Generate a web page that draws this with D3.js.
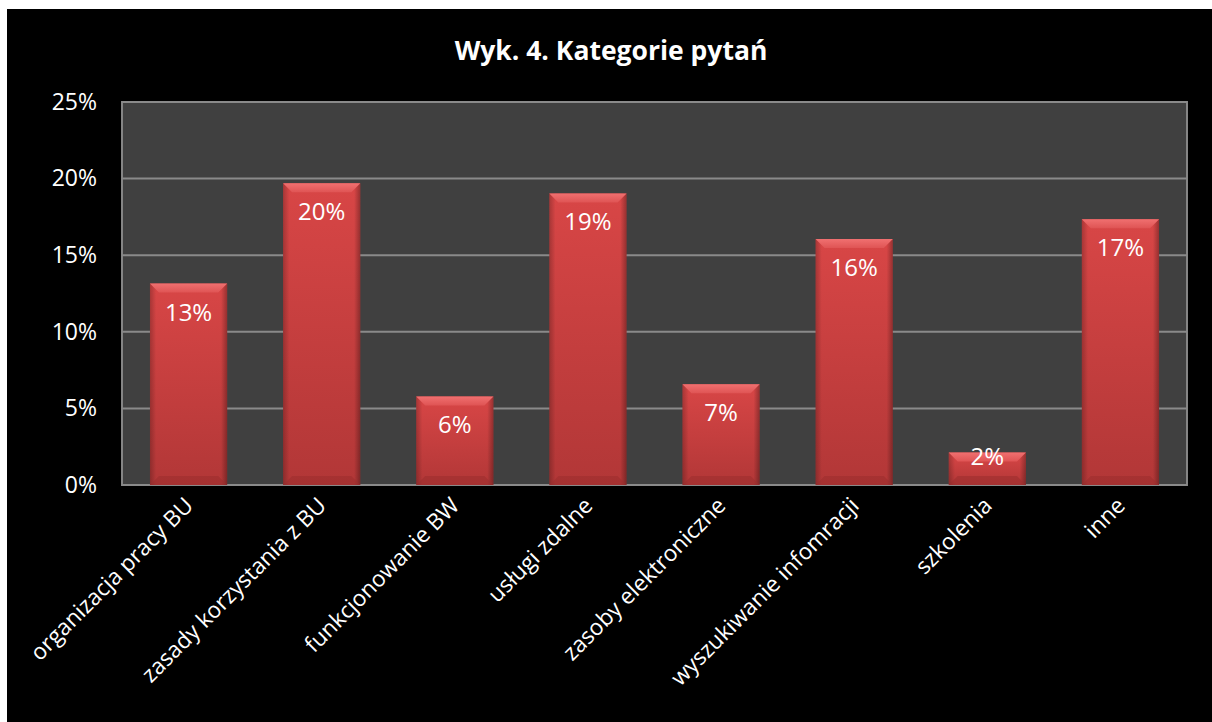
<!DOCTYPE html>
<html>
<head>
<meta charset="utf-8">
<script src="https://cdn.jsdelivr.net/npm/d3@7"></script>
<style>
  html, body { margin: 0; padding: 0; background: #fff; }
  svg { display: block; }
  text { font-family: "Open Sans", sans-serif; fill: #fff; }
</style>
</head>
<body>
<svg id="chart" width="1212" height="722"></svg>
<script>
'use strict';

// chart data
var categories = ["organizacja pracy BU", "zasady korzystania z BU", "funkcjonowanie BW",
  "usługi zdalne", "zasoby elektroniczne", "wyszukiwanie infomracji", "szkolenia", "inne"];
var values = [0.1315, 0.1969, 0.0578, 0.1903, 0.0657, 0.1605, 0.0212, 0.1735];
var labels = ["13%", "20%", "6%", "19%", "7%", "16%", "2%", "17%"];
var yTicks = [0, 0.05, 0.10, 0.15, 0.20, 0.25];
var title = "Wyk. 4. Kategorie pytań";

var W = 1212, H = 722;
var margin = {top: 102, right: 25, bottom: 237, left: 122};
var svg = d3.select("#chart");

// black chart area with white frame
svg.append("rect").attr("x", 7).attr("y", 9).attr("width", W - 7).attr("height", H - 9).attr("fill", "#000");

var defs = svg.append("defs");
var grad = defs.append("linearGradient").attr("id", "barGrad")
  .attr("x1", 0).attr("y1", 0).attr("x2", 0).attr("y2", 1);
grad.append("stop").attr("offset", "0%").attr("stop-color", "#d84646");
grad.append("stop").attr("offset", "100%").attr("stop-color", "#b23737");

var hgrad = defs.append("linearGradient").attr("id", "sideGrad")
  .attr("x1", 0).attr("y1", 0).attr("x2", 1).attr("y2", 0);
hgrad.append("stop").attr("offset", "0%").attr("stop-color", "#000").attr("stop-opacity", 0.22);
hgrad.append("stop").attr("offset", "8%").attr("stop-color", "#000").attr("stop-opacity", 0);
hgrad.append("stop").attr("offset", "92%").attr("stop-color", "#000").attr("stop-opacity", 0);
hgrad.append("stop").attr("offset", "100%").attr("stop-color", "#000").attr("stop-opacity", 0.3);

var bevGrad = defs.append("linearGradient").attr("id", "bevGrad")
  .attr("x1", 0).attr("y1", 0).attr("x2", 0).attr("y2", 1);
bevGrad.append("stop").attr("offset", "0%").attr("stop-color", "#f07070");
bevGrad.append("stop").attr("offset", "100%").attr("stop-color", "#df5454");

var x = d3.scaleBand().domain(categories)
  .range([margin.left, W - margin.right]).paddingInner(0.42).paddingOuter(0.21);
var y = d3.scaleLinear().domain([0, 0.25]).range([H - margin.bottom, margin.top]);

// plot area
svg.append("rect")
  .attr("x", margin.left).attr("y", margin.top)
  .attr("width", W - margin.right - margin.left).attr("height", y(0) - margin.top)
  .attr("fill", "#404040").attr("stroke", "#858585").attr("stroke-width", 2);

// gridlines
svg.append("g").selectAll("line").data(yTicks).enter().append("line")
  .attr("x1", margin.left).attr("x2", W - margin.right)
  .attr("y1", function (d) { return y(d); }).attr("y2", function (d) { return y(d); })
  .attr("stroke", "#8a8a8a").attr("stroke-width", 2);

// y axis labels
var yAxis = d3.axisLeft(y).tickValues(yTicks).tickFormat(d3.format(".0%")).tickSize(0).tickPadding(25);
var ya = svg.append("g").attr("transform", "translate(" + margin.left + ",0)").call(yAxis);
ya.select(".domain").remove();
ya.selectAll("text").attr("font-size", 23).attr("fill", "#fff")
  .style("font-family", "'Open Sans', sans-serif");

// bars
var bars = svg.append("g").selectAll("g").data(values).enter().append("g");
bars.append("rect")
  .attr("x", function (d, i) { return x(categories[i]); })
  .attr("y", function (d) { return y(d); })
  .attr("width", x.bandwidth())
  .attr("height", function (d) { return y(0) - y(d); })
  .attr("fill", "url(#barGrad)");
bars.append("rect")
  .attr("x", function (d, i) { return x(categories[i]); })
  .attr("y", function (d) { return y(d); })
  .attr("width", x.bandwidth())
  .attr("height", function (d) { return y(0) - y(d); })
  .attr("fill", "url(#sideGrad)");
// top bevel
var bev = 9;
bars.append("path")
  .attr("d", function (d, i) {
    var x0 = x(categories[i]), x1 = x0 + x.bandwidth(), t = y(d);
    return "M" + x0 + "," + t + "L" + x1 + "," + t + "L" + (x1 - bev) + "," + (t + bev) +
      "L" + (x0 + bev) + "," + (t + bev) + "Z";
  })
  .attr("fill", "url(#bevGrad)");
// bottom bevel
bars.append("path")
  .attr("d", function (d, i) {
    var x0 = x(categories[i]), x1 = x0 + x.bandwidth(), b = y(0);
    return "M" + x0 + "," + b + "L" + x1 + "," + b + "L" + (x1 - bev) + "," + (b - bev) +
      "L" + (x0 + bev) + "," + (b - bev) + "Z";
  })
  .attr("fill", "#9a2e2e").attr("opacity", 0.55);

// data labels
bars.append("text")
  .attr("x", function (d, i) { return x(categories[i]) + x.bandwidth() / 2; })
  .attr("y", function (d) { return (y(0) - y(d)) > 50 ? y(d) + 37 : y(d) + 12; })
  .attr("text-anchor", "middle")
  .attr("font-size", 24)
  .text(function (d, i) { return labels[i]; });

// category labels
svg.append("g").selectAll("text").data(categories).enter().append("text")
  .attr("transform", function (d) {
    return "translate(" + (x(d) + x.bandwidth() / 2 + 6) + "," + (y(0) + 22) + ") rotate(-45)";
  })
  .attr("text-anchor", "end")
  .attr("font-size", 22.5)
  .text(function (d) { return d; });

// title
svg.append("text")
  .attr("x", 611).attr("y", 60)
  .attr("text-anchor", "middle")
  .attr("font-size", 26.5).attr("font-weight", "bold")
  .text(title);
</script>
</body>
</html>
